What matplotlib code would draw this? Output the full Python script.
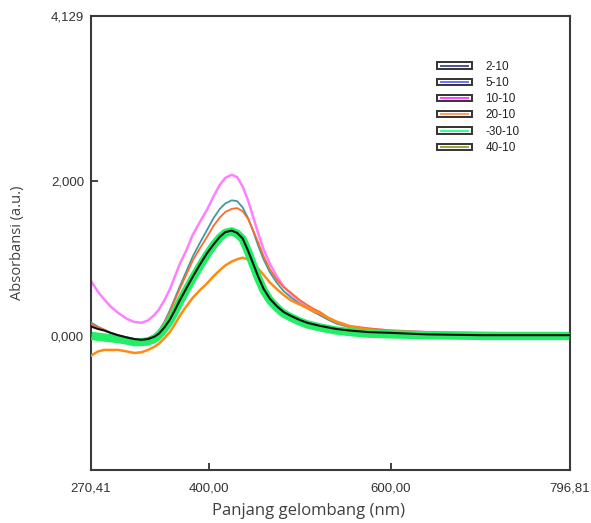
import matplotlib
matplotlib.use("Agg")
import matplotlib.pyplot as plt
from matplotlib.legend_handler import HandlerBase
from matplotlib.patches import Rectangle
from matplotlib.lines import Line2D

# ---- data ----
wavelength = [271, 278, 285, 292, 300, 310, 318, 326, 333, 340, 345, 351, 357, 362, 368,
              375, 382, 390, 398, 405, 412, 418, 425, 431, 437, 443, 448, 454, 460, 467,
              475, 482, 490, 499, 508, 515, 522, 531, 540, 555, 575, 600, 640, 700, 750, 796]

abs_2_10 = [0.12, 0.09, 0.07, 0.04, 0.01, -0.02, -0.04, -0.05, -0.04, -0.01, 0.03, 0.11,
            0.21, 0.32, 0.46, 0.61, 0.76, 0.92, 1.07, 1.18, 1.28, 1.34, 1.36, 1.33, 1.26,
            1.10, 0.95, 0.77, 0.61, 0.48, 0.38, 0.31, 0.26, 0.21, 0.17, 0.15, 0.13, 0.11,
            0.09, 0.07, 0.05, 0.04, 0.02, 0.01, 0.01, 0.01]
abs_5_10 = [0.17, 0.12, 0.08, 0.04, 0.01, -0.02, -0.04, -0.05, -0.03, 0.01, 0.07, 0.18,
            0.33, 0.47, 0.64, 0.83, 1.02, 1.20, 1.37, 1.52, 1.64, 1.71, 1.75, 1.74, 1.66,
            1.52, 1.37, 1.17, 0.99, 0.82, 0.68, 0.58, 0.50, 0.42, 0.36, 0.31, 0.27, 0.21,
            0.16, 0.11, 0.08, 0.06, 0.04, 0.03, 0.02, 0.02]
abs_10_10 = [0.70, 0.57, 0.47, 0.38, 0.30, 0.22, 0.18, 0.17, 0.20, 0.27, 0.34, 0.46,
             0.60, 0.75, 0.93, 1.10, 1.30, 1.47, 1.63, 1.80, 1.95, 2.04, 2.08, 2.05, 1.93,
             1.75, 1.56, 1.33, 1.12, 0.93, 0.76, 0.64, 0.54, 0.45, 0.37, 0.32, 0.27, 0.22,
             0.17, 0.12, 0.09, 0.07, 0.05, 0.04, 0.03, 0.03]
abs_20_10 = [0.15, 0.11, 0.08, 0.04, 0.01, -0.02, -0.04, -0.05, -0.03, 0.01, 0.06, 0.17,
             0.31, 0.45, 0.61, 0.79, 0.97, 1.13, 1.28, 1.42, 1.53, 1.60, 1.64, 1.65, 1.61,
             1.51, 1.38, 1.21, 1.03, 0.86, 0.72, 0.63, 0.56, 0.47, 0.40, 0.35, 0.31, 0.24,
             0.19, 0.13, 0.10, 0.07, 0.05, 0.03, 0.02, 0.02]
abs_30_10 = [0.00, -0.01, -0.02, -0.03, -0.04, -0.06, -0.08, -0.08, -0.07, -0.04, 0.01, 0.09,
             0.19, 0.30, 0.44, 0.59, 0.74, 0.90, 1.05, 1.17, 1.27, 1.33, 1.35, 1.32, 1.25,
             1.09, 0.93, 0.75, 0.59, 0.46, 0.36, 0.29, 0.24, 0.19, 0.15, 0.13, 0.11, 0.09,
             0.07, 0.05, 0.03, 0.02, 0.01, 0.00, 0.00, 0.00]
abs_40_10 = [-0.25, -0.20, -0.18, -0.18, -0.18, -0.20, -0.22, -0.21, -0.18, -0.14, -0.10, -0.03,
             0.05, 0.14, 0.26, 0.38, 0.49, 0.59, 0.68, 0.77, 0.85, 0.91, 0.96, 0.99, 1.01,
             0.99, 0.94, 0.87, 0.79, 0.69, 0.60, 0.53, 0.46, 0.41, 0.36, 0.32, 0.29, 0.23,
             0.18, 0.12, 0.08, 0.05, 0.03, 0.02, 0.01, 0.01]

labels = ["2-10", "5-10", "10-10", "20-10", "-30-10", "40-10"]
legend_colors = ["#4a5590", "#6674ff", "#ff44ff", "#ffa060", "#33ff88", "#a4a43c"]

x_ticks = [270.41, 400.0, 600.0, 796.81]
x_ticklabels = ["270,41", "400,00", "600,00", "796,81"]
y_ticks = [0.0, 2.0, 4.129]
y_ticklabels = ["0,000", "2,000", "4,129"]

# ---- figure ----
fig = plt.figure(figsize=(5.91, 5.23), dpi=100)
ax = fig.add_axes([0.154, 0.1013, 0.8105, 0.8681])

ax.plot(wavelength, abs_10_10, color="#ff80ff", lw=1.8, zorder=2)
ax.plot(wavelength, abs_5_10, color="#3f9aa6", lw=1.3, zorder=3)
ax.plot(wavelength, abs_20_10, color="#ff6a2a", lw=1.3, zorder=3)
ax.plot(wavelength, abs_40_10, color="#ff8c10", lw=1.8, zorder=3)
ax.plot(wavelength, abs_30_10, color="#22ee66", lw=6.0, zorder=4, solid_capstyle="butt")
ax.plot(wavelength, abs_2_10, color="#111111", lw=1.5, zorder=5)

ax.set_xlim(270.41, 796.81)
ax.set_ylim(-1.73, 4.129)

ax.set_xticks(x_ticks)
ax.set_xticklabels(x_ticklabels)
ax.set_yticks(y_ticks)
ax.set_yticklabels(y_ticklabels)
ax.tick_params(direction="in", length=5, width=1.3, color="#333333",
               labelsize=9.5, labelcolor="#333333", top=False, right=False)
ax.tick_params(axis="x", pad=9)
ax.tick_params(axis="y", pad=5)
for lab in ax.get_xticklabels() + ax.get_yticklabels():
    lab.set_family("Liberation Sans")

for s in ax.spines.values():
    s.set_color("#3a3a3a")
    s.set_linewidth(1.5)

ax.set_xlabel("Panjang gelombang (nm)", fontsize=12, color="#404040", family="Open Sans")
ax.xaxis.set_label_coords(0.455, -0.072)
ax.set_ylabel("Absorbansi (a.u.)", fontsize=10.5, color="#404040", family="Open Sans")
ax.yaxis.set_label_coords(-0.137, 0.5)


class BoxLineHandler(HandlerBase):
    def create_artists(self, legend, orig_handle, xdescent, ydescent, width, height,
                       fontsize, trans):
        rect = Rectangle((-xdescent, -ydescent + height * 0.15), width, height * 0.7,
                         facecolor="white", edgecolor="#333333", lw=1.4, transform=trans)
        line = Line2D([-xdescent + width * 0.12, -xdescent + width * 0.88],
                      [-ydescent + height * 0.5] * 2, color=orig_handle.get_color(),
                      lw=1.4, transform=trans)
        return [rect, line]


handles = [Line2D([], [], color=c) for c in legend_colors]
leg = ax.legend(handles, labels, loc="upper left", bbox_to_anchor=(0.70, 0.925),
                frameon=False, fontsize=8.5, handlelength=3.0, handleheight=0.8,
                handletextpad=1.1, labelspacing=0.36,
                handler_map={Line2D: BoxLineHandler()})
for t in leg.get_texts():
    t.set_color("#222222")
    t.set_family("Liberation Sans")

fig.savefig("out.png", dpi=100, facecolor="white")
